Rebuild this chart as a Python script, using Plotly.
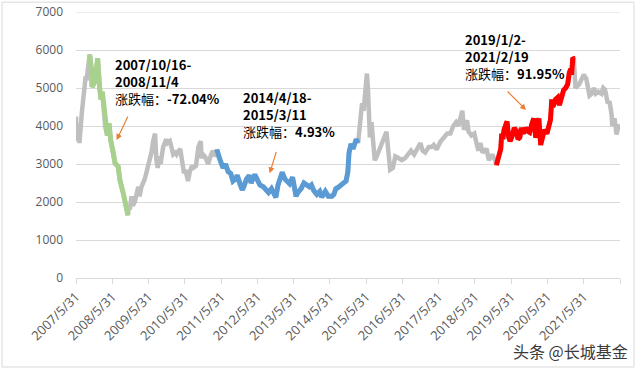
import plotly.graph_objects as go
import pandas as pd

# ---------------- data ----------------
dates = [
    "2007-05-31","2007-06-05","2007-06-20","2007-07-05","2007-07-27","2007-08-20","2007-09-05","2007-09-14",
    "2007-10-16","2007-11-02","2007-11-08","2007-12-05","2007-12-20","2008-01-04","2008-01-25","2008-02-05",
    "2008-02-20","2008-03-10","2008-03-20","2008-04-10","2008-04-28","2008-05-14","2008-06-10","2008-06-27",
    "2008-07-29","2008-08-15","2008-09-18","2008-10-10","2008-10-28","2008-11-04",
    "2008-11-14","2008-11-24","2008-12-09","2008-12-23","2009-01-12","2009-02-16","2009-03-02","2009-03-20",
    "2009-04-22","2009-05-26","2009-06-29","2009-07-16","2009-08-04","2009-08-18","2009-08-31","2009-09-18",
    "2009-09-29","2009-10-25","2009-11-24","2009-12-08","2009-12-31","2010-01-11","2010-02-03","2010-02-26",
    "2010-03-10","2010-04-15","2010-05-05","2010-05-20","2010-06-10","2010-07-02","2010-07-20","2010-08-10",
    "2010-08-23","2010-09-20","2010-10-15","2010-11-08","2010-11-16","2010-12-01","2010-12-20","2011-01-20",
    "2011-02-20","2011-03-10","2011-03-20",
    "2011-04-18","2011-05-05","2011-05-25","2011-06-20","2011-07-15","2011-08-10","2011-09-05","2011-09-28",
    "2011-10-20","2011-11-10","2011-12-05","2011-12-30","2012-01-15","2012-02-10","2012-03-10","2012-03-28",
    "2012-05-05","2012-05-30","2012-06-25","2012-07-30","2012-08-30","2012-09-20","2012-10-20","2012-11-20",
    "2012-12-03","2012-12-25","2013-01-20","2013-02-05","2013-03-05","2013-04-01","2013-04-20","2013-05-20",
    "2013-06-24","2013-07-12","2013-08-15","2013-09-12","2013-10-10","2013-11-05","2013-11-26","2013-12-20",
    "2014-01-20","2014-02-18","2014-03-10","2014-03-25","2014-04-15","2014-05-15","2014-06-20","2014-07-10",
    "2014-07-30","2014-08-20","2014-09-15","2014-10-15","2014-11-10","2014-11-28","2014-12-10","2014-12-31",
    "2015-01-20","2015-02-05","2015-02-20","2015-03-11",
    "2015-03-30","2015-04-20","2015-05-06","2015-05-27","2015-06-08","2015-06-18","2015-07-03","2015-07-08",
    "2015-07-24","2015-08-26","2015-09-15","2015-10-25","2015-11-25","2015-12-22","2016-01-15","2016-01-28",
    "2016-02-25","2016-03-20","2016-04-25","2016-05-25","2016-06-25","2016-07-25","2016-08-25","2016-09-25",
    "2016-10-25","2016-11-28","2016-12-20","2017-01-15","2017-02-20","2017-03-20","2017-04-10","2017-05-10",
    "2017-06-20","2017-07-25","2017-08-25","2017-09-25","2017-10-25","2017-11-22","2017-12-15","2018-01-24",
    "2018-02-09","2018-03-12","2018-03-28","2018-04-25","2018-05-25","2018-06-20","2018-07-05","2018-07-25",
    "2018-08-15","2018-09-25","2018-10-18","2018-11-20","2018-12-20",
    "2019-01-02","2019-01-25","2019-02-15","2019-02-25","2019-03-08","2019-03-20","2019-04-08","2019-04-19",
    "2019-05-06","2019-05-20","2019-06-12","2019-07-01","2019-07-25","2019-08-08","2019-08-26","2019-09-10",
    "2019-09-30","2019-10-25","2019-11-20","2019-12-03","2019-12-25","2020-01-14","2020-02-03","2020-02-20",
    "2020-03-05","2020-03-23","2020-04-10","2020-04-30","2020-05-25","2020-06-15","2020-06-30","2020-07-13",
    "2020-07-24","2020-08-20","2020-09-10","2020-09-28","2020-10-20","2020-11-10","2020-11-30","2020-12-20",
    "2021-01-05","2021-01-20","2021-01-28","2021-02-10","2021-02-19",
    "2021-03-09","2021-03-25","2021-04-15","2021-05-31","2021-06-25","2021-07-28","2021-08-20","2021-09-10",
    "2021-09-30","2021-10-25","2021-11-25","2021-12-13","2021-12-31","2022-01-28","2022-02-15","2022-03-07",
    "2022-03-15","2022-04-06","2022-04-26","2022-05-12","2022-05-20",
]
values = [
    4250,3600,4050,3550,4300,5000,5300,5200,
    5880,5500,5030,5150,5400,5780,5000,4700,
    4900,4400,3980,3750,4070,3630,3290,3020,
    2930,2580,2230,1950,1700,1650,
    1900,1800,2150,1900,2000,2400,2150,2400,
    2600,2900,3300,3600,3800,3100,2900,3200,
    3000,3450,3650,3550,3600,3500,3250,3300,
    3250,3400,3000,2800,2800,2550,2800,2950,
    2900,2950,3450,3600,3150,3250,3200,3000,
    3250,3350,3200,
    3380,3190,3080,2900,3000,2800,2750,2550,
    2600,2700,2450,2320,2400,2600,2700,2500,
    2720,2600,2450,2400,2300,2250,2350,2200,
    2120,2450,2650,2780,2600,2550,2480,2650,
    2150,2250,2350,2500,2450,2400,2450,2300,
    2200,2280,2130,2200,2280,2150,2150,2200,
    2350,2380,2450,2500,2550,2800,3300,3530,
    3400,3550,3650,3550,
    4000,4600,4400,5100,5380,5000,4100,3700,
    4100,3100,3200,3500,3650,3850,3200,2850,
    2900,3200,3150,3100,3150,3250,3350,3250,
    3380,3550,3350,3300,3450,3450,3500,3380,
    3600,3700,3800,3800,4000,4100,4000,4400,
    3900,4150,3850,3750,3800,3500,3350,3550,
    3300,3400,3100,3250,3100,
    2970,3200,3400,3800,3650,3900,4100,4120,
    3700,3600,3750,3950,3850,3650,3700,3950,
    3800,3950,3850,3830,4050,4200,3690,4150,
    4200,3500,3780,3900,3800,4000,4170,4700,
    4500,4700,4750,4550,4750,4950,5000,5100,
    5400,5500,5350,5800,5780,
    5000,5050,5100,5350,5250,4800,4850,5000,
    4850,4900,4850,5000,4950,4600,4650,4300,
    4000,4200,3780,3950,4050,
]

# highlighted periods (as drawn)
seg_starts = ["2007-10-16", "2011-04-18", "2019-01-02"]
seg_ends = ["2008-11-04", "2015-03-11", "2021-02-19"]

# annotation texts
ann_dates = ["2007/10/16-<br>2008/11/4", "2014/4/18-<br>2015/3/11", "2019/1/2-<br>2021/2/19"]
ann_changes = ["-72.04%", "4.93%", "91.95%"]

y_max = 7000
tick_dates = ["%d-05-31" % y for y in range(2007, 2023)]
tick_labels = ["%d/5/31" % y for y in range(2007, 2022)] + [""]

# ---------------- figure ----------------
df = pd.DataFrame({"d": pd.to_datetime(dates), "v": values})

seg_colors = ["#A9D18E", "#5B9BD5", "#FF0000"]

fig = go.Figure()
fig.add_trace(go.Scatter(x=df["d"], y=df["v"], mode="lines",
                         line=dict(color="#BFBFBF", width=4.5), hoverinfo="skip"))
for s, e, c in zip(seg_starts, seg_ends, seg_colors):
    sub = df[(df["d"] >= pd.Timestamp(s)) & (df["d"] <= pd.Timestamp(e))]
    fig.add_trace(go.Scatter(x=sub["d"], y=sub["v"], mode="lines",
                             line=dict(color=c, width=5), hoverinfo="skip"))

txt_font = dict(family="Noto Sans CJK SC, Noto Sans, sans-serif", size=13, color="#000000")
ann_pos = [("2008-06-05", 5160), ("2011-12-14", 4290), ("2018-01-26", 5840)]
for (ax_, ay_), dtxt, ch in zip(ann_pos, ann_dates, ann_changes):
    fig.add_annotation(x=ax_, y=ay_, xref="x", yref="y", xanchor="left", yanchor="middle",
                       align="left", showarrow=False,
                       text="<b>%s</b><br>涨跌幅：<b>%s</b>" % (dtxt, ch), font=txt_font)

arrows = [("2008-07-13", 3630, 12, -25), ("2012-10-02", 2755, 7, -23), ("2019-10-28", 4420, -20, -20)]
for x_, y_, dx, dy in arrows:
    fig.add_annotation(x=x_, y=y_, xref="x", yref="y", text="", showarrow=True,
                       ax=dx, ay=dy, arrowhead=2, arrowsize=1, arrowwidth=1.2,
                       arrowcolor="#ED7D31")

# watermark
fig.add_annotation(x=0.909, y=-0.274, xref="paper", yref="paper", showarrow=False,
                   text="头条 @长城基金", xanchor="center", yanchor="middle",
                   font=dict(family="Noto Sans CJK SC, sans-serif", size=16, color="#3a3a3a"))

# top gridline (at the plot edge) and outer frame
fig.add_shape(type="line", xref="paper", yref="y", x0=0, x1=1, y0=y_max, y1=y_max,
              line=dict(color="#D9D9D9", width=1), layer="below")
fig.add_shape(type="rect", xref="paper", yref="paper",
              x0=-0.136, x1=1.0257, y0=-0.3346, y1=1.037,
              line=dict(color="#D9D9D9", width=1), fillcolor="rgba(0,0,0,0)", layer="below")

fig.update_layout(
    width=640, height=370,
    margin=dict(l=76, r=20, t=12, b=92),
    paper_bgcolor="white", plot_bgcolor="white",
    showlegend=False,
    font=dict(family="Open Sans, sans-serif", color="#595959"),
    xaxis=dict(
        type="date", range=["2007-05-31", "2022-05-31"],
        tickvals=tick_dates, ticktext=tick_labels, tickangle=-45,
        tickfont=dict(size=13, color="#595959"),
        showgrid=False, showline=True, linecolor="#D9D9D9", linewidth=1,
        ticks="outside", ticklen=5, tickcolor="#D9D9D9", automargin=False,
    ),
    yaxis=dict(
        range=[0, y_max], dtick=1000, tickfont=dict(size=12, color="#595959"),
        showgrid=True, gridcolor="#D9D9D9", gridwidth=1, zeroline=False,
        showline=False, ticks="", ticklabelstandoff=12, automargin=False,
    ),
)

# remove the browser's default 8px body margin so the figure fills the window
fig.write_html("out.html", config={"displayModeBar": False},
               post_script="document.body.style.margin='0px';")
